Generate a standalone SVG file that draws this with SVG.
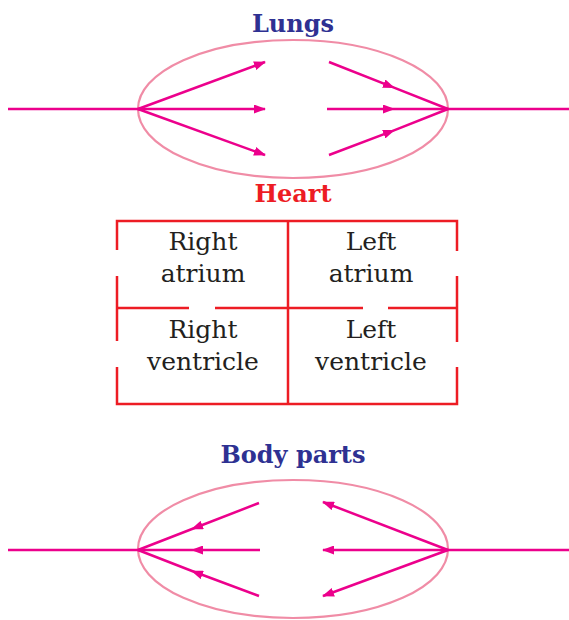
<svg xmlns="http://www.w3.org/2000/svg" width="569" height="620" viewBox="0 0 569 620">
<style>
.title{font-family:"DejaVu Serif","Liberation Serif",serif;font-weight:bold;font-size:24px;text-anchor:middle}
.lbl{font-family:"DejaVu Serif","Liberation Serif",serif;font-size:25px;fill:#231f20;text-anchor:middle}
.oval{fill:none;stroke:#f08ca6;stroke-width:2.2}
.wall{fill:none;stroke:#ed1c24;stroke-width:2.5}
.flow{fill:none;stroke:#ec008c;stroke-width:2.5}
</style>
<defs>
<marker id="ah" markerUnits="userSpaceOnUse" markerWidth="12" markerHeight="9" refX="11" refY="4.5" orient="auto">
<path d="M0,0 L12,4.5 L0,9 z" fill="#ec008c"/>
</marker>
</defs>
<g id="lungs">
<ellipse class="oval" cx="293" cy="109" rx="155" ry="69"/>
<text class="title" x="293" y="32" fill="#2e3192">Lungs</text>
</g>
<g id="heart">
<text class="title" x="293" y="202" fill="#ed1c24">Heart</text>
<path class="wall" d="M117,250 V221 H457 V251 M117,276 V341 M457,276 V342 M117,367 V404 H457 V367 M288,221 V404 M117,308 H189 M215,308 H363 M388,308 H457"/>
<g id="right-atrium"><text class="lbl" x="203" y="250">Right</text><text class="lbl" x="203" y="282">atrium</text></g>
<g id="left-atrium"><text class="lbl" x="371" y="250">Left</text><text class="lbl" x="371" y="282">atrium</text></g>
<g id="right-ventricle"><text class="lbl" x="203" y="338">Right</text><text class="lbl" x="203" y="370">ventricle</text></g>
<g id="left-ventricle"><text class="lbl" x="371" y="338">Left</text><text class="lbl" x="371" y="370">ventricle</text></g>
</g>
<g id="body-parts">
<ellipse class="oval" cx="293" cy="549" rx="155" ry="69"/>
<text class="title" x="293" y="463" fill="#2e3192">Body  parts</text>
</g>
<g id="connectors">
<path class="flow" d="M8,109 H138"/>
<path class="flow" d="M448,109 H569"/>
<path class="flow" marker-end="url(#ah)" d="M138,109 L265,62"/>
<path class="flow" marker-end="url(#ah)" d="M138,109 L265,109"/>
<path class="flow" marker-end="url(#ah)" d="M138,109 L265,155"/>
<path class="flow" marker-mid="url(#ah)" d="M329,62 L394,87.7 L448,109"/>
<path class="flow" marker-mid="url(#ah)" d="M327,109 L394,109 L448,109"/>
<path class="flow" marker-mid="url(#ah)" d="M329,155 L394,130.3 L448,109"/>
<path class="flow" d="M8,550 H138"/>
<path class="flow" d="M448,550 H569"/>
<path class="flow" marker-mid="url(#ah)" d="M259,503 L192,529 L138,550"/>
<path class="flow" marker-mid="url(#ah)" d="M260,550 L192,550 L138,550"/>
<path class="flow" marker-mid="url(#ah)" d="M259,596 L192,571 L138,550"/>
<path class="flow" marker-end="url(#ah)" d="M448,550 L323,502"/>
<path class="flow" marker-end="url(#ah)" d="M448,550 L323,550"/>
<path class="flow" marker-end="url(#ah)" d="M448,550 L323,596"/>
</g>
</svg>
